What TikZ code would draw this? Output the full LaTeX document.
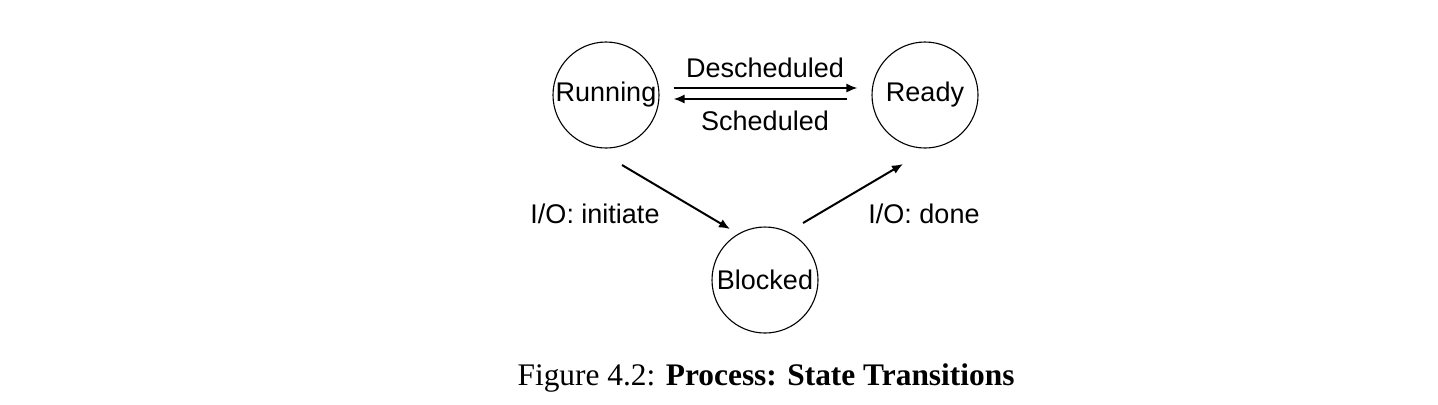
\documentclass[tikz,border=0pt]{standalone}
\usepackage{fontspec}
\setmainfont{Liberation Serif}
\setsansfont{Liberation Sans}
\usetikzlibrary{arrows.meta,calc}
\tikzset{
  state/.style={circle,draw,line width=0.55pt,minimum size=53pt,inner sep=0pt,font=\sffamily\fontsize{13.5}{16}\selectfont},
  lbl/.style={inner sep=0pt,font=\sffamily\fontsize{13.5}{16}\selectfont},
  arr/.style={-{Latex[length=5.5pt,width=4.6pt]},line width=1pt},
}
\begin{document}
\begin{tikzpicture}[x=0.5pt,y=-0.5pt]
\useasboundingbox (0,0) rectangle (1438,404);
\node[state] (run) at (606,95) {Running};
\node[state] (rdy) at (925,95) {Ready};
\node[state] (blk) at (765,280) {Blocked};
\node[lbl] (ld) at (765,68) {Descheduled};
\node[lbl] (ls) at (765,121) {Scheduled};
\node[lbl] (li) at (595,214) {I/O: initiate};
\node[lbl] (lo) at (924,214) {I/O: done};
\coordinate (a1) at ([shift={(16,70)}]run.center);
\coordinate (a2) at ([shift={(-35,-51)}]blk.center);
\coordinate (b1) at ([shift={(38,-57)}]blk.center);
\coordinate (b2) at ([shift={(-22,69)}]rdy.center);
\draw[arr,shorten <=7pt,shorten >=7pt] ([yshift=3.5pt]run.east) -- ([yshift=3.5pt]rdy.west);
\draw[arr,shorten >=7pt,shorten <=12pt] ([yshift=-2pt]rdy.west) -- ([yshift=-2pt]run.east);
\draw[arr] (a1) -- (a2);
\draw[arr] (b1) -- (b2);
\node[font=\fontsize{15.7}{18}\selectfont] (cap) at (766,378) {Figure 4.2: \textbf{Process: State Transitions}};
\end{tikzpicture}
\end{document}
